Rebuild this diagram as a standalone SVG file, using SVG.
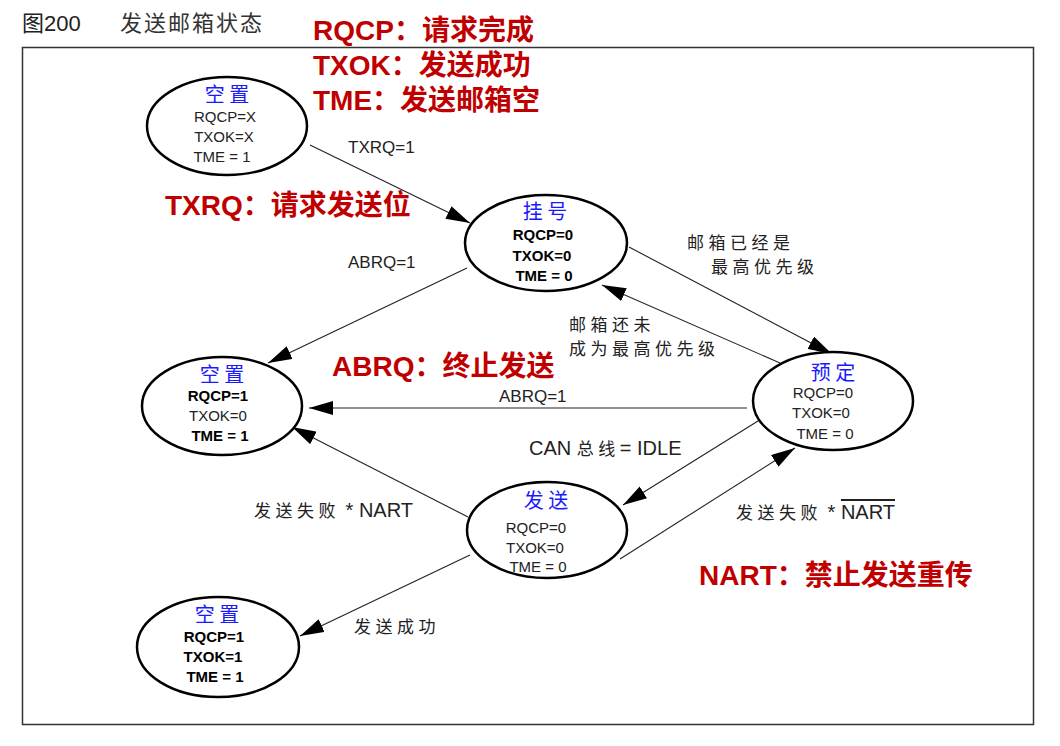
<svg xmlns="http://www.w3.org/2000/svg" width="1060" height="746" viewBox="0 0 1060 746">
<style>
.node{fill:#fff;stroke:#000;stroke-width:2.5}
.ttl{font-family:"Noto Sans CJK SC",sans-serif;font-size:20px;fill:#1a1aff;text-anchor:middle}
.v{font-family:"Liberation Sans",Arial,sans-serif;font-size:15px;fill:#222;text-anchor:middle}
.b{font-weight:bold;fill:#000}
.edge{stroke:#222;stroke-width:1.1;fill:none;marker-end:url(#ah)}
.lbl{font-family:"Liberation Sans",Arial,"Noto Sans CJK SC",sans-serif;font-size:17px;fill:#222}
.cjk{font-family:"Noto Sans CJK SC",sans-serif;font-size:17px;letter-spacing:4.5px;fill:#222}
.big{font-size:20px}
.red{font-family:"Liberation Sans",Arial,"Noto Sans CJK SC",sans-serif;font-size:28px;font-weight:bold;fill:#c00000}
.title{font-family:"Liberation Sans",Arial,"Noto Sans CJK SC",sans-serif;font-size:22px;fill:#222}
</style>
<defs>
<marker id="ah" markerUnits="userSpaceOnUse" markerWidth="24" markerHeight="14" refX="24" refY="7" orient="auto">
<path d="M0,0 L24,7 L0,14 Z" fill="#000"/>
</marker>
</defs>
<rect width="1060" height="746" fill="#fff"/>
<text class="title" x="22" y="31">图200</text>
<text class="title" x="120" y="31" style="font-family:'Noto Sans CJK SC',sans-serif;letter-spacing:2px;fill:#333">发送邮箱状态</text>
<rect x="22.5" y="47.5" width="1011" height="677" fill="none" stroke="#333" stroke-width="1.5"/>

<g id="connectors">
<line class="edge" x1="310" y1="145" x2="470" y2="223"/>
<line class="edge" x1="467" y1="268" x2="268" y2="363"/>
<line class="edge" x1="629" y1="247" x2="832" y2="354"/>
<line class="edge" x1="780" y1="363" x2="602" y2="285"/>
<line class="edge" x1="747" y1="408" x2="309" y2="408"/>
<line class="edge" x1="758" y1="421" x2="623" y2="505"/>
<line class="edge" x1="620" y1="559" x2="795" y2="448"/>
<line class="edge" x1="468" y1="517" x2="292" y2="427"/>
<line class="edge" x1="470" y1="555" x2="300" y2="636"/>
<text class="lbl" x="348" y="153">TXRQ=1</text>
<text class="lbl" x="348" y="268">ABRQ=1</text>
<text class="cjk" x="687" y="249">邮箱已经是</text>
<text class="cjk" x="711" y="273">最高优先级</text>
<text class="cjk" x="569" y="331">邮箱还未</text>
<text class="cjk" x="569" y="355">成为最高优先级</text>
<text class="lbl" x="499" y="402">ABRQ=1</text>
<text class="lbl big" x="529" y="455">CAN <tspan class="cjk">总线</tspan>= IDLE</text>
<text class="lbl big" x="254" y="517"><tspan class="cjk">发送失败</tspan> * NART</text>
<text class="lbl big" x="736" y="519"><tspan class="cjk">发送失败</tspan> * <tspan text-decoration="overline">NART</tspan></text>
<text class="cjk" x="354" y="633">发送成功</text>
</g>

<g id="node-idle-top">
<ellipse class="node" cx="227" cy="126" rx="80" ry="49"/>
<text class="ttl" x="227" y="102">空 置</text>
<text class="v" x="225" y="122">RQCP=X</text>
<text class="v" x="224" y="142">TXOK=X</text>
<text class="v" x="222" y="162">TME = 1</text>
</g>

<g id="node-pending">
<ellipse class="node" cx="546" cy="243" rx="81" ry="48"/>
<text class="ttl" x="545" y="219">挂 号</text>
<text class="v b" x="543" y="240">RQCP=0</text>
<text class="v b" x="542" y="261">TXOK=0</text>
<text class="v b" x="544" y="281">TME = 0</text>
</g>

<g id="node-idle-mid">
<ellipse class="node" cx="222" cy="406" rx="80" ry="49"/>
<text class="ttl" x="222" y="382">空 置</text>
<text class="v b" x="218" y="401">RQCP=1</text>
<text class="v" x="218" y="421">TXOK=0</text>
<text class="v b" x="220" y="441">TME = 1</text>
</g>

<g id="node-scheduled">
<ellipse class="node" cx="833" cy="401" rx="80" ry="49"/>
<text class="ttl" x="833" y="380">预 定</text>
<text class="v" x="823" y="398">RQCP=0</text>
<text class="v" x="821" y="418">TXOK=0</text>
<text class="v" x="825" y="439">TME = 0</text>
</g>

<g id="node-transmit">
<ellipse class="node" cx="547" cy="530" rx="80" ry="48"/>
<text class="ttl" x="546" y="508">发 送</text>
<text class="v" x="536" y="533">RQCP=0</text>
<text class="v" x="535" y="553">TXOK=0</text>
<text class="v" x="538" y="572">TME = 0</text>
</g>

<g id="node-idle-bottom">
<ellipse class="node" cx="218" cy="647" rx="81" ry="50"/>
<text class="ttl" x="217" y="622">空 置</text>
<text class="v b" x="214" y="642">RQCP=1</text>
<text class="v b" x="213" y="662">TXOK=1</text>
<text class="v b" x="215" y="682">TME = 1</text>
</g>

<g id="annotations">
<text class="red" x="313" y="40">RQCP：请求完成</text>
<text class="red" x="313" y="75">TXOK：发送成功</text>
<text class="red" x="313" y="110">TME：发送邮箱空</text>
<text class="red" x="165" y="215">TXRQ：请求发送位</text>
<text class="red" x="332" y="376">ABRQ：终止发送</text>
<text class="red" x="699" y="585">NART：禁止发送重传</text>
</g>
</svg>
